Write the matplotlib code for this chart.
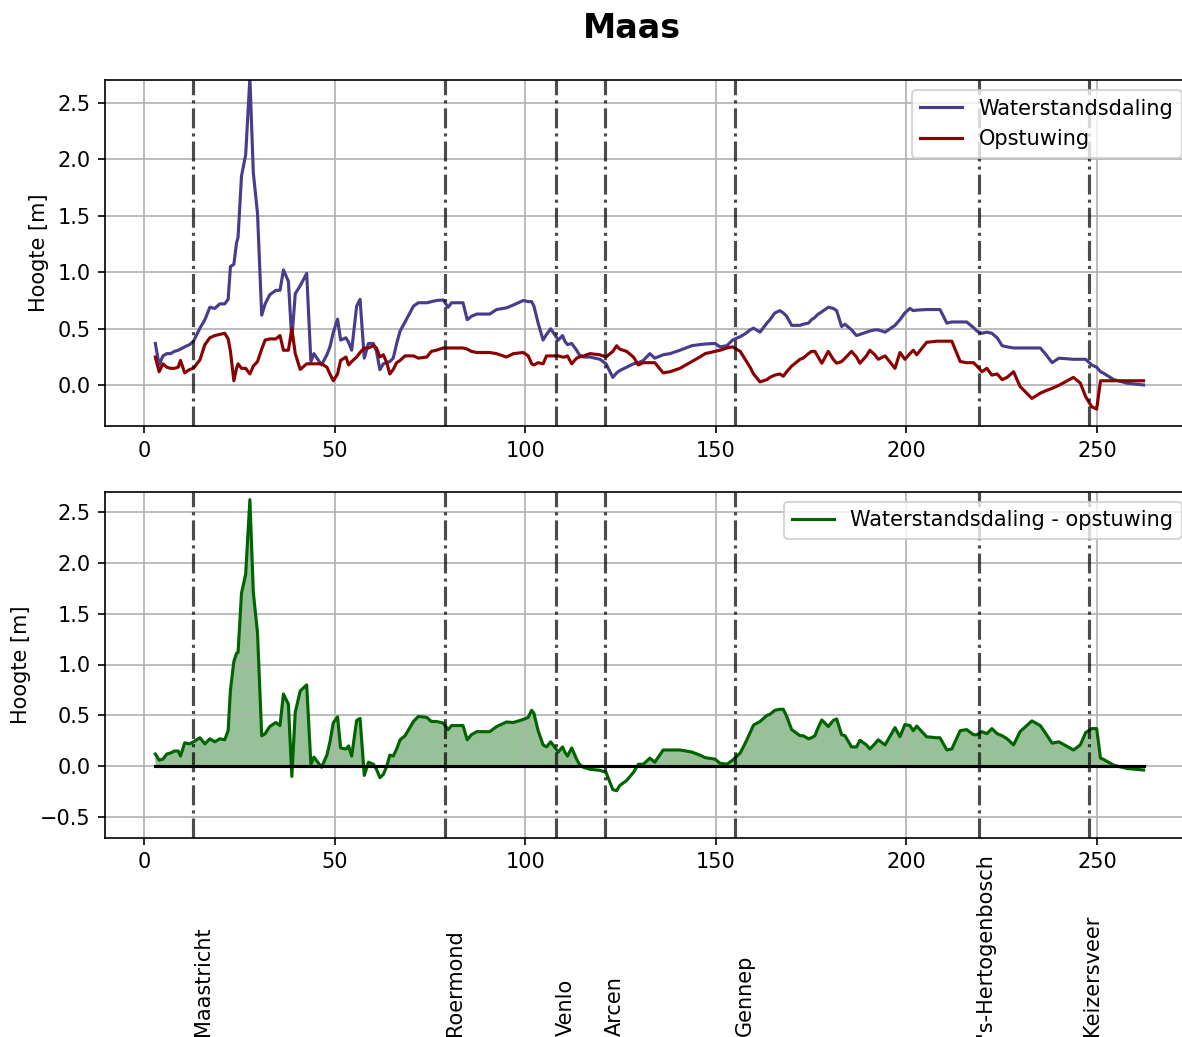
import matplotlib.pyplot as plt
import numpy as np

# riverkilometers along the Maas with the computed water levels [m]
km = np.array([
    3.0, 4.0, 5.0, 6.0, 7.0, 8.0, 9.0, 9.6, 10.7, 12.0,
    13.0, 14.7, 16.0, 17.3, 18.6, 19.9, 21.2, 22.1, 22.7, 23.6,
    24.3, 24.7, 25.6, 26.7, 27.8, 28.7, 29.8, 30.9, 31.8, 33.0,
    34.6, 35.7, 36.6, 37.9, 38.8, 39.7, 41.0, 42.7, 43.8, 44.6,
    46.6, 48.0, 48.8, 49.7, 50.8, 51.6, 53.0, 53.7, 54.5, 55.8,
    56.7, 57.8, 58.9, 60.2, 61.0, 61.9, 62.8, 63.7, 64.5, 65.4,
    66.3, 67.2, 68.5, 70.7, 72.0, 74.2, 75.4, 76.7, 78.5, 79.8,
    80.7, 83.7, 84.8, 85.9, 87.3, 90.7, 92.5, 95.1, 96.9, 99.5,
    100.8, 101.7, 102.3, 103.4, 104.7, 105.6, 106.7, 108.7, 109.8, 110.4,
    111.1, 112.2, 113.5, 114.2, 115.3, 117.0, 119.6, 121.2, 123.0, 124.0,
    124.8, 126.6, 128.4, 129.7, 131.0, 132.7, 134.0, 136.2, 138.0, 140.6,
    143.7, 145.8, 147.2, 149.8, 151.1, 152.9, 154.4, 156.4, 157.9, 159.0,
    159.9, 161.6, 163.4, 164.2, 165.5, 166.8, 167.7, 168.6, 169.9, 172.1,
    172.9, 174.3, 175.1, 176.0, 176.5, 177.8, 179.5, 180.8, 181.7, 183.0,
    183.9, 185.6, 186.9, 187.8, 189.5, 190.4, 191.7, 192.6, 194.4, 197.0,
    198.3, 199.6, 200.9, 201.8, 202.7, 205.3, 207.9, 208.8, 210.6, 211.9,
    214.1, 215.8, 217.6, 218.5, 219.8, 221.1, 222.4, 223.8, 225.1, 226.4,
    228.1, 229.8, 232.9, 235.1, 236.4, 238.2, 240.0, 243.8, 245.6, 247.0,
    248.6, 249.9, 250.9, 251.7, 254.4, 257.9, 262.2,
])

waterstandsdaling = np.array([
    0.37, 0.18, 0.26, 0.28, 0.28, 0.30, 0.31, 0.32, 0.34, 0.36,
    0.39, 0.505, 0.58, 0.69, 0.68, 0.72, 0.72, 0.76, 1.05, 1.07,
    1.26, 1.31, 1.85, 2.04, 2.72, 1.88, 1.52, 0.62, 0.72, 0.80,
    0.84, 0.84, 1.02, 0.92, 0.40, 0.81, 0.88, 0.99, 0.21, 0.28,
    0.18, 0.27, 0.34, 0.47, 0.585, 0.40, 0.42, 0.38, 0.31, 0.70,
    0.76, 0.24, 0.37, 0.37, 0.30, 0.138, 0.19, 0.20, 0.21, 0.24,
    0.37, 0.48, 0.56, 0.70, 0.73, 0.73, 0.74, 0.75, 0.755, 0.69,
    0.73, 0.73, 0.58, 0.61, 0.63, 0.63, 0.67, 0.685, 0.71, 0.75,
    0.74, 0.74, 0.70, 0.55, 0.40, 0.45, 0.50, 0.40, 0.44, 0.39,
    0.36, 0.37, 0.31, 0.27, 0.25, 0.25, 0.23, 0.19, 0.07, 0.11,
    0.13, 0.16, 0.19, 0.20, 0.22, 0.28, 0.24, 0.27, 0.28, 0.31,
    0.35, 0.36, 0.365, 0.37, 0.34, 0.35, 0.40, 0.43, 0.46, 0.49,
    0.505, 0.47, 0.55, 0.58, 0.64, 0.66, 0.64, 0.61, 0.53, 0.53,
    0.54, 0.55, 0.58, 0.60, 0.62, 0.65, 0.69, 0.68, 0.66, 0.52,
    0.54, 0.49, 0.44, 0.45, 0.47, 0.48, 0.49, 0.49, 0.47, 0.53,
    0.58, 0.64, 0.68, 0.66, 0.665, 0.67, 0.67, 0.67, 0.55, 0.56,
    0.56, 0.56, 0.51, 0.48, 0.46, 0.47, 0.46, 0.42, 0.35, 0.34,
    0.33, 0.33, 0.33, 0.33, 0.28, 0.20, 0.24, 0.23, 0.23, 0.23,
    0.18, 0.16, 0.12, 0.107, 0.05, 0.018, 0.003,
])

opstuwing = np.array([
    0.25, 0.12, 0.19, 0.16, 0.15, 0.15, 0.16, 0.22, 0.11, 0.14,
    0.15, 0.225, 0.36, 0.42, 0.44, 0.45, 0.46, 0.41, 0.30, 0.04,
    0.15, 0.19, 0.15, 0.15, 0.10, 0.17, 0.21, 0.32, 0.40, 0.41,
    0.41, 0.44, 0.31, 0.31, 0.50, 0.28, 0.14, 0.19, 0.19, 0.19,
    0.19, 0.16, 0.10, 0.04, 0.10, 0.22, 0.25, 0.18, 0.21, 0.25,
    0.29, 0.33, 0.33, 0.35, 0.33, 0.25, 0.27, 0.20, 0.10, 0.14,
    0.20, 0.22, 0.26, 0.26, 0.24, 0.25, 0.30, 0.31, 0.33, 0.33,
    0.33, 0.33, 0.32, 0.30, 0.29, 0.29, 0.28, 0.25, 0.28, 0.29,
    0.26, 0.19, 0.18, 0.20, 0.19, 0.26, 0.26, 0.26, 0.25, 0.25,
    0.26, 0.19, 0.24, 0.25, 0.26, 0.28, 0.27, 0.25, 0.30, 0.35,
    0.32, 0.30, 0.25, 0.18, 0.20, 0.20, 0.20, 0.11, 0.12, 0.15,
    0.21, 0.25, 0.28, 0.30, 0.31, 0.33, 0.34, 0.30, 0.22, 0.16,
    0.10, 0.03, 0.05, 0.07, 0.09, 0.10, 0.08, 0.12, 0.17, 0.23,
    0.24, 0.28, 0.30, 0.30, 0.27, 0.195, 0.30, 0.23, 0.195, 0.21,
    0.24, 0.30, 0.25, 0.195, 0.26, 0.31, 0.27, 0.23, 0.26, 0.15,
    0.29, 0.23, 0.28, 0.31, 0.27, 0.38, 0.39, 0.39, 0.39, 0.39,
    0.21, 0.20, 0.20, 0.17, 0.12, 0.15, 0.09, 0.10, 0.05, 0.07,
    0.12, -0.01, -0.116, -0.07, -0.05, -0.027, 0.00, 0.07, 0.02, -0.10,
    -0.19, -0.21, 0.04, 0.04, 0.04, 0.04, 0.04,
])

verschil = waterstandsdaling - opstuwing

plaatsen = ["Maastricht", "Roermond", "Venlo", "Arcen", "Gennep",
            "'s-Hertogenbosch", "Keizersveer"]
plaats_km = [13, 79, 108, 121, 155, 219, 248]

fig = plt.figure(figsize=(1182 / 150, 1037 / 150), dpi=150)
fig.text(0.5347, 1 - 28 / 1037, 'Maas', ha='center', va='center',
         fontsize=16, fontweight='bold')

ax1 = fig.add_axes([105 / 1182, 1 - 426 / 1037, 1087 / 1182, 346 / 1037])
ax2 = fig.add_axes([105 / 1182, 1 - 837.5 / 1037, 1087 / 1182, 346 / 1037])

# bovenste grafiek: daling en opstuwing
ax1.plot(km, waterstandsdaling, color='darkslateblue', label='Waterstandsdaling')
ax1.plot(km, opstuwing, color='darkred', label='Opstuwing')
ax1.set_ylim(-0.36, 2.7)
ax1.set_ylabel('Hoogte [m]')
ax1.legend(loc='upper right')

# onderste grafiek: netto effect
ax2.plot(km, verschil, color='darkgreen', label='Waterstandsdaling - opstuwing')
ax2.fill_between(km, verschil, 0, where=verschil > 0, interpolate=True,
                 color='darkgreen', alpha=0.4, linewidth=0)
ax2.plot(km, np.zeros_like(km), color='k')
ax2.set_ylim(-0.7, 2.7)
ax2.set_ylabel('Hoogte [m]')
ax2.legend(loc='upper right')

for ax in (ax1, ax2):
    ax.set_xlim(-10.2, 274.9)
    ax.grid(True)
    for p in plaats_km:
        ax.axvline(p, color='k', linestyle='-.', alpha=0.7)

label_dx = {"'s-Hertogenbosch": -1, "Keizersveer": -2}
for naam, p in zip(plaatsen, plaats_km):
    ax2.text(p + label_dx.get(naam, 0), -2.65, naam, rotation=90,
             ha='left', va='bottom', clip_on=False)

fig.savefig('out.png', dpi=150)
